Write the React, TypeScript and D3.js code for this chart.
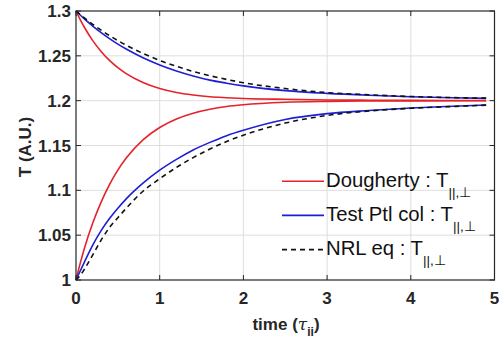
import React from "react";
import * as d3 from "d3";

const times = [0, 0.05, 0.1, 0.2, 0.3, 0.4, 0.5, 0.6, 0.8, 1.0, 1.2, 1.4, 1.6, 1.8, 2.0, 2.5, 3, 3.5, 4, 4.5, 4.9];
const redUpper = [1.3, 1.2905, 1.2819, 1.267, 1.2549, 1.2449, 1.2368, 1.2301, 1.2202, 1.2135, 1.2091, 1.2063, 1.2043, 1.2033, 1.2025, 1.2015, 1.2008, 1.2005, 1.2003, 1.2002, 1.2001];
const redLower = [1.0, 1.0185, 1.0352, 1.0635, 1.0869, 1.1065, 1.1226, 1.136, 1.1563, 1.1701, 1.1796, 1.186, 1.1904, 1.1935, 1.1955, 1.1982, 1.1992, 1.1996, 1.1998, 1.1999, 1.1999];
const blueUpper = [1.3, 1.2955, 1.2912, 1.2832, 1.2759, 1.2692, 1.2631, 1.2576, 1.2479, 1.2399, 1.2332, 1.2276, 1.2229, 1.2195, 1.2165, 1.2112, 1.2081, 1.206, 1.2044, 1.2033, 1.2026];
const blueLower = [1.0, 1.01, 1.02, 1.039, 1.055, 1.0685, 1.08, 1.0905, 1.108, 1.1225, 1.1345, 1.145, 1.1535, 1.161, 1.167, 1.179, 1.1855, 1.189, 1.1918, 1.1938, 1.1952];
const nrlUpper = [1.3, 1.2961, 1.2923, 1.2852, 1.2787, 1.2726, 1.267, 1.2619, 1.2527, 1.2449, 1.2383, 1.2326, 1.2278, 1.2237, 1.22, 1.2135, 1.209, 1.2066, 1.2046, 1.2034, 1.2028];
const nrlLower = [1.0, 1.005, 1.012, 1.028, 1.0445, 1.0585, 1.0695, 1.08, 1.099, 1.1129, 1.1255, 1.1365, 1.146, 1.1545, 1.1615, 1.175, 1.1835, 1.1885, 1.1915, 1.1935, 1.195];

const xTicks = [0, 1, 2, 3, 4, 5];
const yTicks = [1, 1.05, 1.1, 1.15, 1.2, 1.25, 1.3];
const yTickLabels = ["1", "1.05", "1.1", "1.15", "1.2", "1.25", "1.3"];
const legendLabels = ["Dougherty : T", "Test Ptl col : T", "NRL eq : T"];
const legendSub = "||,\u22A5";

const RED = "#e5222a";
const BLUE = "#1e1ed4";
const FONT = "Liberation Sans, Arial, Helvetica, sans-serif";

export default function App() {
  const left = 76, right = 494.5, top = 11, bottom = 280;
  const x = d3.scaleLinear().domain([0, 5]).range([left, right]);
  const y = d3.scaleLinear().domain([1, 1.3]).range([bottom, top]);
  const line = d3
    .line<number>()
    .x((_, i) => x(times[i]))
    .y((d) => y(d))
    .curve(d3.curveMonotoneX);

  const series = [
    { data: redUpper, color: RED, dash: undefined },
    { data: redLower, color: RED, dash: undefined },
    { data: blueUpper, color: BLUE, dash: undefined },
    { data: blueLower, color: BLUE, dash: undefined },
    { data: nrlUpper, color: "#111", dash: "5,4" },
    { data: nrlLower, color: "#111", dash: "5,4" },
  ];

  const legend = [
    { color: RED, dash: undefined },
    { color: BLUE, dash: undefined },
    { color: "#111", dash: "5,4" },
  ];

  return (
    <svg
      width={500}
      height={342}
      style={{ position: "absolute", left: 0, top: 0, background: "#fff" }}
      fontFamily={FONT}
    >
      <rect x={0} y={0} width={500} height={342} fill="#fff" />
      {xTicks.slice(1, -1).map((t) => (
        <line key={"gx" + t} x1={x(t)} x2={x(t)} y1={top} y2={bottom} stroke="#dedede" strokeWidth={1} />
      ))}
      {yTicks.slice(1, -1).map((t) => (
        <line key={"gy" + t} x1={left} x2={right} y1={y(t)} y2={y(t)} stroke="#dedede" strokeWidth={1} />
      ))}
      {series.map((s, i) => (
        <path
          key={i}
          d={line(s.data) || ""}
          fill="none"
          stroke={s.color}
          strokeWidth={1.6}
          strokeDasharray={s.dash}
        />
      ))}
      <rect x={left} y={top} width={right - left} height={bottom - top} fill="none" stroke="#262626" strokeWidth={1.2} />
      {xTicks.map((t) => (
        <g key={"xt" + t}>
          <line x1={x(t)} x2={x(t)} y1={bottom} y2={bottom - 5} stroke="#262626" />
          <line x1={x(t)} x2={x(t)} y1={top} y2={top + 5} stroke="#262626" />
          <text x={x(t)} y={304} textAnchor="middle" fontSize={17} fontWeight="bold" fill="#262626">
            {t}
          </text>
        </g>
      ))}
      {yTicks.map((t, i) => (
        <g key={"yt" + t}>
          <line x1={left} x2={left + 5} y1={y(t)} y2={y(t)} stroke="#262626" />
          <line x1={right} x2={right - 5} y1={y(t)} y2={y(t)} stroke="#262626" />
          <text x={71} y={y(t) + 6} textAnchor="end" fontSize={17} fontWeight="bold" fill="#262626">
            {yTickLabels[i]}
          </text>
        </g>
      ))}
      <text x={286} y={330} textAnchor="middle" fontSize={17} fontWeight="bold" fill="#262626">
        time (<tspan fontStyle="italic" fontWeight="normal" fontFamily="DejaVu Serif, serif">τ</tspan>
        <tspan fontSize={12} dy={6}>ii</tspan>
        <tspan dy={-6}>)</tspan>
      </text>
      <text
        transform={`translate(31, 147) rotate(-90)`}
        textAnchor="middle"
        fontSize={17}
        fontWeight="bold"
        fill="#262626"
      >
        T (A.U.)
      </text>
      {legendLabels.map((lab, i) => {
        const by = 186.7 + i * 34.2;
        return (
          <g key={"lg" + i}>
            <line x1={282} x2={324} y1={by - 5.5} y2={by - 5.5} stroke={legend[i].color} strokeWidth={1.6} strokeDasharray={legend[i].dash} />
            <text x={326} y={by} fontSize={20.3} fill="#111">
              {lab}
              <tspan fontSize={13.5} dy={10}>{legendSub}</tspan>
            </text>
          </g>
        );
      })}
    </svg>
  );
}
